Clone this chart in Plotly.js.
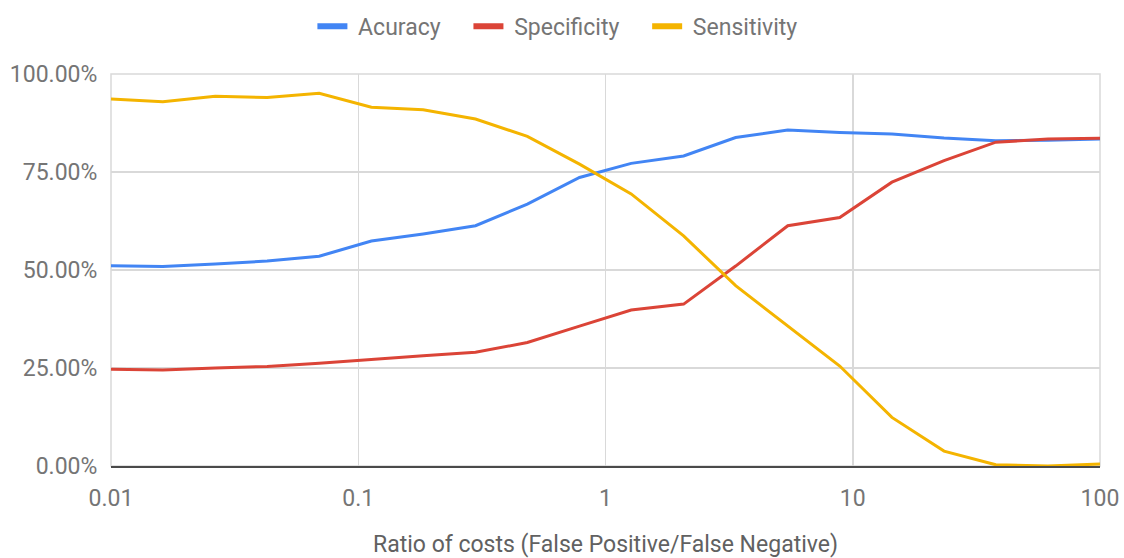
<!DOCTYPE html>
<html>
<head>
<meta charset="utf-8">
<script src="https://cdn.plot.ly/plotly-3.0.1.min.js"></script>
<style>html,body{margin:0;padding:0;background:#fff;}#chart{width:1124px;height:558px;}</style>
</head>
<body>
<div id="chart"></div>
<script>
// Ratio of costs (x, log scale)
var costRatio = [0.01, 0.0162, 0.0264, 0.0428, 0.0695, 0.113, 0.183, 0.298, 0.483, 0.785,
                 1.27, 2.07, 3.36, 5.46, 8.86, 14.4, 23.4, 37.9, 61.6, 100];
// Series values in percent
var accuracy    = [51.1, 50.9, 51.5, 52.3, 53.5, 57.4, 59.2, 61.3, 66.8, 73.6,
                   77.2, 79.1, 83.8, 85.7, 85.1, 84.7, 83.7, 83.0, 83.1, 83.4];
var specificity = [24.7, 24.5, 25.0, 25.4, 26.2, 27.2, 28.1, 29.0, 31.5, 35.7,
                   39.8, 41.3, 51.0, 61.3, 63.4, 72.4, 77.9, 82.6, 83.4, 83.6];
var sensitivity = [93.6, 92.9, 94.3, 94.0, 95.1, 91.5, 90.9, 88.5, 84.1, 77.0,
                   69.4, 58.7, 46.0, 35.7, 25.5, 12.4, 3.8, 0.3, 0.0, 0.5];
var seriesNames = ["Acuracy", "Specificity", "Sensitivity"];
var xTickVals = [0.01, 0.1, 1, 10, 100];
var xTickText = ["0.01", "0.1", "1", "10", "100"];
var yTickVals = [0, 25, 50, 75, 100];
var yTickText = ["0.00%", "25.00%", "50.00%", "75.00%", "100.00%"];

var colors = ["#4285F4", "#DB4437", "#F4B400"];
var series = [accuracy, specificity, sensitivity];
var NB = "\u00a0";

var traces = [];
for (var i = 0; i < series.length; i++) {
  traces.push({
    type: "scatter", mode: "lines", x: costRatio, y: series[i],
    name: seriesNames[i], showlegend: false,
    line: {color: colors[i], width: 3}
  });
}
for (var j = 0; j < series.length; j++) {
  traces.push({
    type: "scatter", mode: "lines", x: [null], y: [null],
    name: NB + seriesNames[j] + NB + NB + NB + NB, showlegend: true,
    line: {color: colors[j], width: 6}
  });
}

var fontFam = "Roboto, Arial, sans-serif";
var layout = {
  width: 1124, height: 558,
  margin: {l: 111, r: 24, t: 74, b: 92, autoexpand: false},
  paper_bgcolor: "#ffffff", plot_bgcolor: "#ffffff",
  font: {family: fontFam, size: 23, color: "#757575"},
  showlegend: true,
  legend: {orientation: "h", x: 0.463, xanchor: "center", y: 1.122, yanchor: "middle",
           font: {family: fontFam, size: 23, color: "#757575"}, itemwidth: 30,
           traceorder: "normal"},
  xaxis: {
    type: "log", range: [-2, 2],
    tickvals: xTickVals, ticktext: xTickText,
    ticks: "outside", ticklen: 10, tickcolor: "rgba(0,0,0,0)",
    showgrid: true, gridcolor: "#d9d9d9", gridwidth: 1.5,
    showline: true, linecolor: "#4a4a4a", linewidth: 2,
    zeroline: false,
    tickfont: {family: fontFam, size: 23, color: "#757575"},
    title: {text: "Ratio of costs (False Positive/False Negative)", standoff: 28,
            font: {family: fontFam, size: 23, color: "#616161"}},
    automargin: false
  },
  yaxis: {
    range: [0, 100], tickvals: yTickVals, ticktext: yTickText,
    ticks: "outside", ticklen: 8, tickcolor: "rgba(0,0,0,0)",
    showgrid: true, gridcolor: "#d9d9d9", gridwidth: 1.5,
    showline: false, zeroline: false,
    tickfont: {family: fontFam, size: 23, color: "#757575"},
    automargin: false
  },
  shapes: [
    {type: "rect", xref: "paper", yref: "paper", x0: 0, x1: 1, y0: 0, y1: 1,
     line: {color: "#d9d9d9", width: 1.5}, layer: "below"}
  ]
};

Plotly.newPlot("chart", traces, layout, {displayModeBar: false, staticPlot: true});
</script>
</body>
</html>
